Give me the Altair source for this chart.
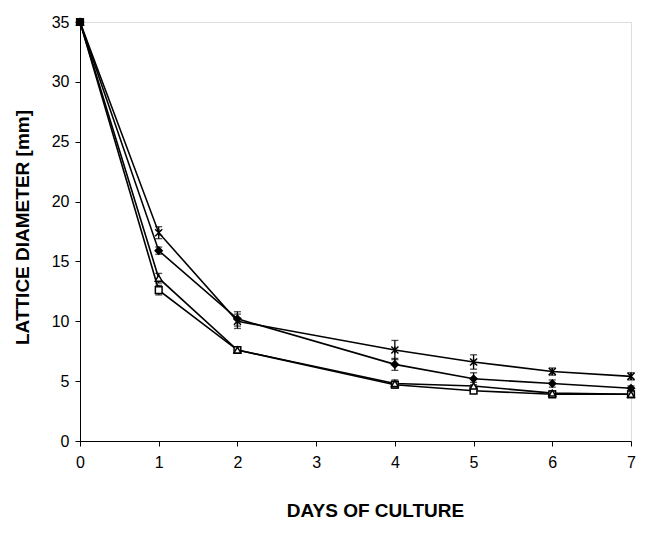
import altair as alt
import pandas as pd

days = [0, 1, 2, 4, 5, 6, 7]
series_names = ["D", "C", "B", "A"]
star_vals = [35, 17.4, 10.0, 7.6, 6.6, 5.8, 5.4]
star_err = [0, 0.5, 0.6, 0.8, 0.6, 0.3, 0.3]
diamond_vals = [35, 15.9, 10.2, 6.4, 5.2, 4.8, 4.4]
diamond_err = [0, 0.3, 0.6, 0.5, 0.5, 0.3, 0.2]
triangle_vals = [35, 13.6, 7.6, 4.8, 4.6, 4.0, 3.9]
triangle_err = [0, 0.4, 0.2, 0.3, 0.3, 0.2, 0.2]
square_vals = [35, 12.6, 7.6, 4.7, 4.2, 3.9, 3.9]
square_err = [0, 0.4, 0.2, 0.3, 0.2, 0.2, 0.2]

rows = []
for name, vals, errs in zip(series_names,
                            [square_vals, triangle_vals, diamond_vals, star_vals],
                            [square_err, triangle_err, diamond_err, star_err]):
    for d, v, e in zip(days, vals, errs):
        rows.append({"day": d, "val": v, "lo": v - e, "hi": v + e, "series": name})
df = pd.DataFrame(rows)

FONT = "Liberation Sans"
xenc = alt.X("day:Q", scale=alt.Scale(domain=[0, 7], nice=False),
             axis=alt.Axis(values=list(range(8)), format="d", title="DAYS OF CULTURE",
                           grid=False, tickSize=5, labelPadding=8, titlePadding=31,
                           titleX=295, labelFlush=False,
                           labelFontSize=16, titleFontSize=19, titleFontWeight="bold",
                           labelColor="black", titleColor="black",
                           domainColor="black", tickColor="black",
                           labelFont=FONT, titleFont=FONT))
yenc = alt.Y("val:Q", scale=alt.Scale(domain=[0, 35], nice=False),
             axis=alt.Axis(values=list(range(0, 36, 5)), title="LATTICE DIAMETER [mm]",
                           grid=False, tickSize=5, labelPadding=6, titlePadding=19,
                           titleY=205, labelFlush=False,
                           labelFontSize=16, titleFontSize=19, titleFontWeight="bold",
                           labelColor="black", titleColor="black",
                           domainColor="black", tickColor="black",
                           labelFont=FONT, titleFont=FONT))

base = alt.Chart(df)

lines = base.mark_line(color="black", strokeWidth=1.6).encode(
    x=xenc, y=yenc, detail="series:N")

errs = base.mark_errorbar(ticks=alt.TickConfig(size=7, thickness=1.3), color="black",
                          thickness=1.3).encode(
    x="day:Q", y=alt.Y("lo:Q", title=""), y2="hi:Q")

star_path = "M-1,-1L1,1M-1,1L1,-1M0,-1L0,1"
points = base.mark_point(strokeWidth=1.5, stroke="black", opacity=1).encode(
    x="day:Q", y="val:Q",
    shape=alt.Shape("series:N", scale=alt.Scale(domain=["A", "B", "C", "D"],
                    range=[star_path, "diamond", "triangle-up", "square"]), legend=None),
    fill=alt.Fill("series:N", scale=alt.Scale(domain=["A", "B", "C", "D"],
                  range=["black", "black", "white", "white"]), legend=None),
    size=alt.Size("series:N", scale=alt.Scale(domain=["A", "B", "C", "D"],
                  range=[50, 45, 40, 40]), legend=None),
)

chart = alt.layer(lines, errs, points).properties(
    width=551, height=419,
    autosize=alt.AutoSizeParams(type="none"),
    padding={"left": 72, "top": 14, "right": 8, "bottom": 93},
).configure_view(stroke=None).configure(background="white")

chart.save("out.html", embed_options={"renderer": "svg", "actions": False})
